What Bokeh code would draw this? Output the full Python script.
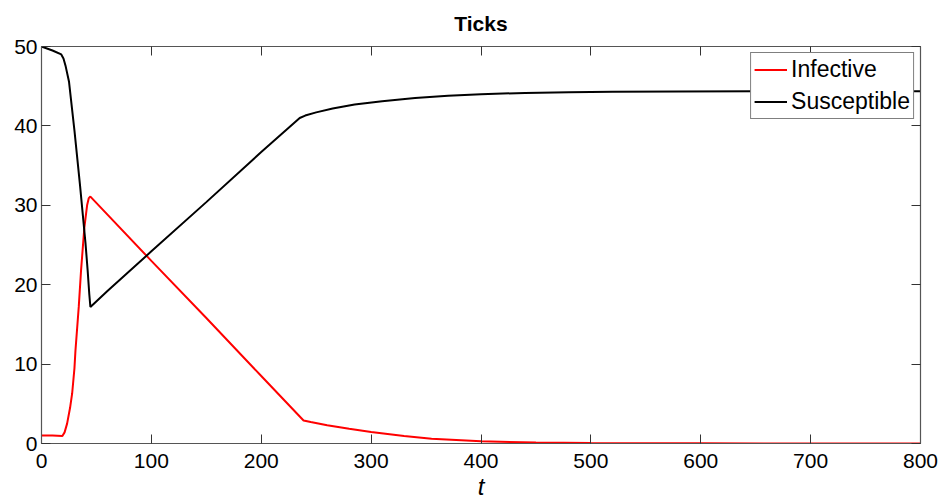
from bokeh.plotting import figure
from bokeh.models import Range1d, LinearAxis, FixedTicker, Legend, LegendItem
from bokeh.embed import file_html
from bokeh.resources import INLINE

# ---- data ----
t_inf = [0, 10, 19, 21, 23.3, 26, 27.9, 30, 30.9, 33.9, 36, 39, 41.5, 43, 44.5,
         100, 150, 200, 238.5, 245, 260, 280, 300, 330, 355, 400, 450, 500, 600, 700, 800]
infective = [1.0, 1.0, 0.95, 1.4, 2.5, 4.5, 6.3, 9.5, 11.7, 17.2, 21.8, 27.2, 30.0, 30.9, 31.1,
             23.0, 15.8, 8.5, 2.9, 2.7, 2.3, 1.85, 1.45, 0.95, 0.6, 0.28, 0.12, 0.06, 0.02, 0.01, 0.0]

t_sus = [0, 10, 18, 20, 22, 25, 30, 35, 40, 42, 43.5, 44.5, 60, 100, 150, 200, 235, 240, 250,
         265, 285, 310, 340, 370, 400, 440, 480, 520, 580, 650, 720, 800]
susceptible = [50, 49.5, 49.0, 48.5, 47.5, 45.6, 39.4, 32.6, 25.3, 21.8, 18.8, 17.2, 19.2, 24.2, 30.4,
               36.7, 41.0, 41.3, 41.7, 42.2, 42.7, 43.1, 43.5, 43.8, 44.0, 44.15, 44.25, 44.3,
               44.32, 44.35, 44.35, 44.35]

x_ticks = [0, 100, 200, 300, 400, 500, 600, 700, 800]
y_ticks = [0, 10, 20, 30, 40, 50]

FONT = "Liberation Sans"

p = figure(width=944, height=504, output_backend="svg", toolbar_location=None,
           x_range=Range1d(0, 800), y_range=Range1d(0, 50),
           min_border_left=41, min_border_right=24, min_border_top=46, min_border_bottom=61,
           title="Ticks")
p.grid.visible = False
p.outline_line_color = None
p.background_fill_color = "white"
p.border_fill_color = "white"

p.title.text_font = FONT
p.title.text_font_size = "21px"
p.title.text_font_style = "bold"
p.title.align = "center"
p.title.vertical_align = "top"
p.title.text_color = "black"
p.title.standoff = 20

r_inf = p.line(t_inf, infective, line_color="#ff0000", line_width=2)
r_sus = p.line(t_sus, susceptible, line_color="black", line_width=2)

def style_axis(ax, show_labels):
    ax.axis_line_color = "#555555"
    ax.axis_line_width = 1.2
    ax.major_tick_line_color = "#333333"
    ax.major_tick_in = 9
    ax.major_tick_out = 0
    ax.minor_tick_line_color = None
    if show_labels:
        ax.major_label_text_font = FONT
        ax.major_label_text_font_size = "21px"
        ax.major_label_text_color = "black"
    else:
        ax.major_label_text_font_size = "1px"
        ax.major_label_text_color = None
        ax.major_label_standoff = 0

p.xaxis.ticker = FixedTicker(ticks=x_ticks)
p.yaxis.ticker = FixedTicker(ticks=y_ticks)
style_axis(p.xaxis[0], True)
style_axis(p.yaxis[0], True)
p.xaxis.major_label_standoff = 10
p.yaxis.major_label_standoff = 4
p.xaxis.axis_label = "t"
p.xaxis.axis_label_text_font = FONT
p.xaxis.axis_label_text_font_style = "italic"
p.xaxis.axis_label_text_font_size = "24px"
p.xaxis.axis_label_text_color = "black"
p.xaxis.axis_label_standoff = 2

top = LinearAxis(ticker=FixedTicker(ticks=x_ticks))
style_axis(top, False)
p.add_layout(top, "above")
right = LinearAxis(ticker=FixedTicker(ticks=y_ticks))
style_axis(right, False)
p.add_layout(right, "right")

legend = Legend(items=[LegendItem(label="Infective", renderers=[r_inf]),
                       LegendItem(label="Susceptible", renderers=[r_sus])],
                location="top_right")
legend.margin = 6
legend.padding = 3
legend.spacing = 5
legend.glyph_width = 33
legend.glyph_height = 25
legend.label_height = 25
legend.label_standoff = 4
legend.label_text_font = FONT
legend.label_text_font_size = "23px"
legend.label_text_color = "black"
legend.border_line_color = "black"
legend.border_line_width = 1
legend.background_fill_alpha = 1
p.add_layout(legend)

open("out.html", "w").write(file_html(p, INLINE))
